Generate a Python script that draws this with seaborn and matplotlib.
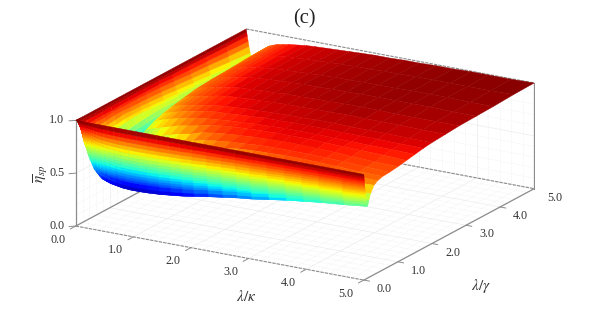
#!/usr/bin/env python3
"""Surface of the averaged efficiency against lambda/kappa and lambda/gamma, panel (c)."""

import matplotlib
matplotlib.use("Agg")
import matplotlib.pyplot as plt
import numpy as np
import seaborn as sns
from mpl_toolkits.mplot3d import proj3d

x_nodes = [0, .01, .02, .035, .05, .07, .09, .11, .13, .16, .19, .22, .26, .3, .35, .4, .47, .55, .65, .75, .9, 1.05, 1.2,
           1.4, 1.6, 1.8, 2, 2.25, 2.5, 2.75, 3, 3.3, 3.6, 3.9, 4.2, 4.6, 5]
y_nodes = [0, .005, .01, .015, .02, .025, .03, .035, .04, .045, .05, .055, .06, .065, .07, .075, .08, .09, .1,
           .12, .15, .2, .3, .4, .55, .75, 1, 1.25, 1.5, 1.75, 2, 2.4, 2.8, 3.3, 3.8, 4.4, 5]

# one row per y node, one column per x node
eta_table = [
    [1] * 37,
    [1,.999,.997,.994,.992,.988,.985,.983,.98,.977,.974,.972,.969,.967,.965,.963,.962,.961,.96,.959,.959,.959,.959,.96,.961,.962,.963,.964,.966,.967,.968,.97,.972,.973,.974,.976,.978],
    [1,.997,.993,.987,.983,.976,.969,.965,.961,.954,.948,.944,.937,.933,.929,.926,.924,.922,.92,.919,.918,.918,.919,.919,.921,.923,.925,.929,.931,.934,.936,.94,.943,.946,.949,.952,.955],
    [1,.996,.99,.982,.975,.965,.955,.949,.943,.932,.924,.918,.908,.903,.896,.891,.888,.885,.883,.881,.88,.88,.881,.882,.885,.887,.891,.895,.9,.904,.907,.912,.917,.921,.925,.929,.934],
    [1,.995,.986,.976,.968,.954,.941,.932,.924,.911,.9,.892,.878,.872,.864,.857,.853,.849,.846,.843,.842,.842,.843,.845,.848,.851,.856,.862,.868,.873,.877,.884,.891,.896,.901,.907,.914],
    [1,.993,.983,.97,.96,.944,.927,.917,.908,.891,.878,.868,.851,.843,.833,.825,.82,.815,.812,.809,.807,.807,.808,.81,.814,.818,.824,.832,.838,.845,.85,.858,.866,.873,.88,.886,.894],
    [1,.992,.98,.965,.953,.934,.914,.902,.891,.871,.856,.844,.824,.815,.803,.793,.787,.782,.778,.774,.772,.772,.773,.776,.78,.785,.792,.801,.809,.817,.823,.832,.842,.85,.858,.865,.875],
    [1,.991,.978,.96,.947,.924,.902,.889,.875,.853,.835,.822,.8,.789,.775,.764,.757,.751,.746,.742,.74,.74,.741,.744,.749,.755,.763,.773,.782,.791,.798,.809,.82,.829,.838,.846,.858],
    [1,.99,.975,.955,.94,.915,.89,.875,.86,.835,.815,.8,.775,.762,.747,.735,.727,.72,.715,.71,.707,.707,.709,.712,.718,.725,.733,.745,.755,.765,.772,.785,.797,.807,.817,.827,.84],
    [1,.989,.972,.95,.934,.906,.879,.862,.846,.818,.796,.78,.752,.739,.722,.708,.7,.692,.686,.681,.678,.678,.68,.684,.69,.697,.707,.719,.73,.741,.75,.763,.777,.788,.799,.81,.824],
    [1,.988,.97,.946,.928,.898,.868,.85,.832,.802,.778,.76,.73,.715,.697,.682,.673,.664,.658,.652,.649,.649,.651,.655,.662,.67,.68,.694,.706,.718,.727,.742,.757,.769,.781,.793,.808],
    [1,.987,.967,.941,.922,.889,.857,.837,.818,.785,.759,.74,.707,.691,.672,.655,.646,.636,.629,.623,.62,.62,.622,.626,.634,.642,.654,.668,.681,.694,.704,.72,.737,.75,.763,.776,.792],
    [1,.986,.965,.937,.916,.881,.846,.825,.804,.769,.741,.72,.685,.667,.646,.629,.618,.608,.601,.594,.59,.59,.593,.597,.606,.615,.627,.643,.657,.671,.681,.699,.716,.73,.744,.758,.776],
    [1,.985,.963,.933,.911,.873,.836,.814,.791,.754,.724,.702,.665,.646,.624,.605,.594,.583,.575,.568,.564,.564,.566,.572,.581,.59,.603,.62,.635,.65,.661,.68,.698,.713,.728,.743,.762],
    [1,.984,.96,.929,.905,.866,.826,.802,.779,.739,.708,.684,.644,.625,.601,.581,.569,.558,.55,.542,.538,.538,.54,.546,.555,.565,.579,.597,.613,.629,.641,.66,.68,.696,.712,.727,.747],
    [1,.983,.958,.925,.9,.859,.817,.792,.768,.726,.693,.668,.626,.606,.581,.56,.548,.535,.527,.519,.514,.514,.517,.523,.533,.543,.558,.577,.593,.61,.622,.643,.664,.68,.697,.714,.734],
    [1,.983,.956,.922,.896,.852,.809,.782,.756,.713,.678,.652,.608,.587,.561,.539,.526,.513,.504,.495,.491,.491,.494,.5,.51,.521,.536,.556,.574,.591,.604,.626,.648,.665,.682,.7,.722],
    [1,.981,.953,.915,.887,.84,.793,.765,.737,.69,.652,.624,.577,.553,.525,.502,.488,.474,.464,.455,.45,.45,.453,.459,.471,.483,.499,.521,.539,.558,.572,.596,.619,.638,.657,.676,.699],
    [1,.98,.95,.91,.88,.83,.78,.75,.72,.67,.63,.60,.55,.525,.495,.47,.455,.44,.43,.42,.415,.415,.418,.425,.437,.45,.467,.49,.51,.53,.545,.57,.595,.615,.635,.655,.68],
    [1,.98,.95,.91,.88,.83,.78,.75,.72,.67,.63,.60,.55,.525,.495,.47,.455,.44,.43,.42,.415,.417,.42,.43,.445,.46,.475,.495,.52,.54,.555,.58,.605,.625,.645,.67,.69],
    [1,.98,.95,.91,.88,.83,.78,.75,.72,.67,.63,.60,.55,.53,.495,.47,.455,.44,.435,.43,.43,.44,.455,.47,.485,.50,.515,.535,.555,.575,.59,.615,.645,.67,.69,.71,.73],
    [1,.98,.95,.91,.88,.83,.79,.75,.72,.67,.63,.60,.555,.53,.50,.47,.46,.45,.445,.445,.46,.475,.495,.52,.54,.56,.58,.60,.625,.65,.665,.69,.71,.73,.75,.77,.785],
    [1,.98,.955,.92,.89,.84,.80,.76,.73,.68,.64,.60,.56,.53,.51,.49,.48,.48,.485,.495,.52,.545,.565,.60,.625,.65,.675,.70,.725,.75,.77,.79,.81,.82,.83,.84,.845],
    [1,.98,.955,.92,.90,.85,.81,.77,.74,.68,.64,.61,.57,.54,.53,.52,.52,.52,.53,.54,.58,.61,.64,.67,.72,.745,.775,.80,.825,.845,.86,.875,.885,.885,.88,.875,.87],
    [1,.98,.955,.925,.90,.86,.82,.78,.75,.69,.65,.62,.58,.55,.555,.56,.57,.58,.59,.61,.65,.68,.71,.74,.795,.82,.845,.87,.89,.90,.905,.91,.91,.905,.90,.89,.885],
    [1,.98,.955,.925,.90,.87,.83,.79,.76,.70,.66,.63,.59,.57,.59,.61,.625,.64,.66,.68,.71,.74,.765,.79,.84,.865,.88,.895,.905,.915,.92,.92,.92,.915,.91,.90,.89],
    [1,.98,.96,.925,.91,.88,.84,.80,.77,.70,.65,.62,.59,.59,.62,.67,.685,.70,.72,.74,.77,.795,.82,.84,.875,.89,.905,.915,.925,.93,.935,.935,.93,.925,.915,.905,.90],
    [1,.98,.96,.93,.91,.88,.85,.81,.78,.71,.67,.635,.61,.60,.63,.68,.735,.755,.775,.79,.815,.84,.855,.875,.90,.915,.925,.935,.94,.945,.945,.945,.94,.935,.93,.925,.915],
    [1,.98,.96,.93,.91,.875,.845,.81,.79,.72,.68,.65,.625,.62,.65,.70,.775,.795,.815,.83,.85,.87,.885,.90,.91,.92,.925,.935,.94,.945,.945,.945,.94,.94,.935,.935,.93],
    [1,.98,.96,.93,.91,.87,.84,.81,.79,.73,.69,.66,.64,.64,.68,.74,.805,.825,.84,.855,.875,.89,.905,.92,.925,.935,.94,.95,.95,.955,.955,.955,.95,.95,.95,.945,.945],
    [1,.98,.96,.93,.905,.87,.835,.80,.78,.74,.70,.67,.66,.67,.72,.77,.825,.845,.86,.875,.89,.905,.92,.93,.94,.945,.95,.955,.96,.96,.965,.965,.96,.96,.96,.955,.955],
    [1,.98,.96,.93,.90,.86,.825,.79,.77,.74,.71,.69,.69,.72,.77,.81,.85,.865,.88,.89,.905,.925,.935,.945,.95,.955,.96,.965,.965,.97,.97,.975,.97,.97,.97,.965,.965],
    [1,.975,.95,.92,.89,.85,.81,.78,.76,.73,.71,.70,.72,.76,.81,.84,.87,.88,.895,.90,.92,.935,.945,.95,.96,.96,.97,.97,.975,.975,.98,.98,.98,.975,.975,.975,.975],
    [1,.975,.95,.91,.875,.835,.795,.77,.75,.73,.71,.72,.75,.79,.83,.855,.88,.89,.90,.91,.93,.945,.95,.96,.965,.97,.975,.975,.98,.98,.985,.985,.985,.985,.985,.98,.98],
    [1,.975,.945,.905,.865,.82,.78,.755,.745,.72,.72,.73,.77,.81,.84,.86,.885,.90,.91,.92,.935,.945,.955,.96,.965,.97,.975,.98,.98,.985,.985,.985,.99,.99,.99,.985,.985],
    [1,.97,.94,.895,.85,.80,.76,.735,.73,.735,.745,.76,.79,.83,.855,.87,.89,.90,.915,.925,.94,.95,.955,.96,.965,.97,.975,.98,.98,.985,.985,.99,.99,.99,.99,.99,.995],
    [1,.97,.935,.885,.84,.78,.74,.72,.72,.73,.75,.77,.80,.84,.86,.88,.895,.91,.92,.93,.94,.95,.955,.96,.965,.97,.975,.98,.98,.985,.985,.99,.99,.995,.995,.995,1],
]

plane_ticks = [0, 1, 2, 3, 4, 5]
plane_tick_labels = ["0.0", "1.0", "2.0", "3.0", "4.0", "5.0"]
eta_ticks = [0, 0.5, 1]
eta_tick_labels = ["0.0", "0.5", "1.0"]

GRID = "#ececec"
FRAME = "#8c8c8c"
LABEL = "#333333"


def draw_grid(ax):
    for v in np.arange(0, 5.01, 0.2):
        major = abs(v - round(v)) < 1e-6
        style = dict(color=GRID, lw=0.5, ls="-" if major else ":", zorder=1)
        ax.plot([v, v], [0, 5], [0, 0], **style)
        ax.plot([0, 5], [v, v], [0, 0], **style)
        ax.plot([v, v], [5, 5], [0, 1], **style)
        ax.plot([0, 0], [v, v], [0, 1], **style)
    for h in np.arange(0, 1.01, 0.1):
        major = abs(h - 0.5) < 1e-6
        style = dict(color=GRID, lw=0.5, ls="-" if major else ":", zorder=1)
        ax.plot([0, 5], [5, 5], [h, h], **style)
        ax.plot([0, 0], [0, 5], [h, h], **style)


def draw_frame(ax):
    dashed = dict(color=FRAME, lw=0.8, ls=(0, (3, 1)), zorder=2)
    solid = dict(color=FRAME, lw=0.9, zorder=2)
    ax.plot([0, 5], [0, 0], [0, 0], **dashed)
    ax.plot([0, 5], [5, 5], [0, 0], **dashed)
    ax.plot([0, 5], [5, 5], [1, 1], **dashed)
    ax.plot([5, 5], [0, 5], [0, 0], **solid)
    ax.plot([0, 0], [0, 5], [0, 0], **solid)
    ax.plot([0, 0], [0, 0], [0, 1], **solid)
    ax.plot([5, 5], [5, 5], [0, 1], **solid)


def label_at(ax, xyz, text, dx, dy, **kwargs):
    # xyz goes through the 3D projection, dx/dy are picture pixels from there
    px, py, _ = proj3d.proj_transform(*xyz, ax.get_proj())
    ax.annotate(
        text, (px, py), xytext=(dx, -dy), textcoords="offset pixels",
        ha="center", va="center", color=LABEL, annotation_clip=False, **kwargs,
    )


def draw_ticks(ax):
    tick = dict(color=FRAME, lw=0.7, zorder=2)
    for v, label in zip(plane_ticks, plane_tick_labels):
        ax.plot([v, v], [0, -0.16], [0, 0], **tick)
        label_at(ax, (v, 0, 0), label, -18, 13.5, fontsize=8.7)
        ax.plot([5, 5.1], [v, v], [0, 0], **tick)
        label_at(ax, (5, v, 0), label, 20.5, 9, fontsize=8.7)
    for v, label in zip(eta_ticks, eta_tick_labels):
        ax.plot([0, 0], [0, -0.2], [v, v + 0.03], **tick)
        label_at(ax, (0, 0, v), label, -19, 0, fontsize=8.7)


def main():
    sns.set_theme(style="white")
    plt.rcParams["font.family"] = ["Liberation Serif", "DejaVu Serif"]
    plt.rcParams["mathtext.fontset"] = "stix"

    fig = plt.figure(figsize=(5.89, 3.13), dpi=100)
    side = 472
    ax = fig.add_axes([62.6 / 589, -83.9 / 313, side / 589, side / 313], projection="3d", proj_type="ortho")
    ax.computed_zorder = False
    ax.set_axis_off()
    ax.view_init(elev=18.5, azim=-59.4)
    ax.set_box_aspect((1, 1, 0.333))
    ax.set_xlim(0, 5, view_margin=0)
    ax.set_ylim(0, 5, view_margin=0)
    ax.set_zlim(0, 1, view_margin=0)

    X, Y = np.meshgrid(x_nodes, y_nodes)
    Z = np.array(eta_table)
    jet = matplotlib.colormaps["jet"]

    draw_grid(ax)
    draw_frame(ax)
    draw_ticks(ax)
    surf = ax.plot_surface(
        X, Y, Z, cmap=jet, vmin=0.39, vmax=1.0, rstride=1, cstride=1,
        shade=False, linewidth=0.3, antialiased=True, zorder=5,
    )
    surf.set_edgecolor("face")

    label_at(ax, (0, 0, 0), r"$\lambda/\kappa$", 170, 70, fontsize=11)
    label_at(ax, (0, 0, 0), r"$\lambda/\gamma$", 405, 60, fontsize=11)
    label_at(ax, (0, 0, 0), r"$\overline{\eta}_{sp}$", -35, -52, fontsize=11, rotation=90)

    fig.text(304 / 589, 1 - 18.5 / 313, "(c)", fontsize=14.7, ha="center", va="center", color="#222222")
    fig.savefig("out.png", dpi=100)
    plt.close(fig)


if __name__ == "__main__":
    main()
